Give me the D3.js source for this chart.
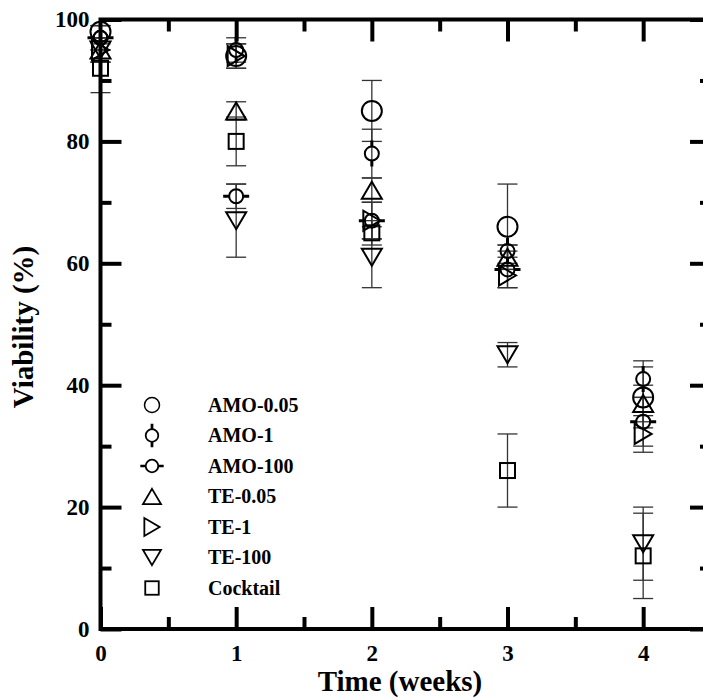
<!DOCTYPE html>
<html>
<head>
<meta charset="utf-8">
<script src="https://cdn.jsdelivr.net/npm/d3@7"></script>
<style>
  body { margin: 0; background: #fff; }
  svg text { font-family: "Liberation Serif", "Times New Roman", serif; font-weight: bold; fill: #000; }
</style>
</head>
<body>
<svg id="chart"></svg>
<script>
var width = 703, height = 698;

// data
var weeks = [0, 1, 2, 3, 4];
var seriesNames = ["AMO-0.05", "AMO-1", "AMO-100", "TE-0.05", "TE-1", "TE-100", "Cocktail"];
var amo005 = [98, 94, 85, 66, 38];
var amo005Err = [1, 2, 5, 7, 5];
var amo1 = [97, 95, 78, 62, 41];
var amo1Err = [2, 2, 4, 1, 3];
var amo100 = [97, 71, 67, 59, 34];
var amo100Err = [2, 2, 3, 3, 4];
var te005 = [95, 85, 72, 61, 37];
var te005Err = [2, 1.5, 2, 2, 3];
var te1 = [95, 94, 67, 58, 32];
var te1Err = [2, 2, 3, 2, 3];
var te100 = [95, 67, 61, 45, 14];
var te100Err = [2, 6, 5, 2, 6];
var cocktail = [92, 80, 65, 26, 12];
var cocktailErr = [4, 4, 2, 6, 7];

var xMajor = [0, 1, 2, 3, 4];
var xMinor = [0.5, 1.5, 2.5, 3.5];
var yMajor = [0, 20, 40, 60, 80, 100];
var yMinor = [10, 30, 50, 70, 90];

var shapes = ["bigCircle", "circleV", "circleH", "triUp", "triRight", "triDown", "square"];
var allValues = [amo005, amo1, amo100, te005, te1, te100, cocktail];
var allErrors = [amo005Err, amo1Err, amo100Err, te005Err, te1Err, te100Err, cocktailErr];

var series = seriesNames.map(function(name, i) {
    return {
        name: name,
        shape: shapes[i],
        points: weeks.map(function(w, j) {
            return { week: w, value: allValues[i][j], err: allErrors[i][j] };
        })
    };
});

var svg = d3.select("#chart")
    .attr("width", width)
    .attr("height", height);

var x = d3.scaleLinear().domain([0, 4.5]).range([100.5, 711]);
var y = d3.scaleLinear().domain([0, 100]).range([629, 19.5]);

// draws a marker into group g, scale s for legend size
function drawMarker(g, shape, s) {
    var sw = 2 * s;
    if (shape == "bigCircle") {
        g.append("circle").attr("r", 10 * s);
    } else if (shape == "circleV" || shape == "circleH") {
        var r = 7 * s;
        g.append("circle").attr("r", r);
        var stub = 6 * s;
        if (shape == "circleV") {
            g.append("path").attr("d", "M0," + (-r - stub) + "V" + (-r) + "M0," + r + "V" + (r + stub))
                .style("stroke-width", 3 * s);
        } else {
            g.append("path").attr("d", "M" + (-r - stub) + ",0H" + (-r) + "M" + r + ",0H" + (r + stub))
                .style("stroke-width", 3 * s);
        }
    } else if (shape == "triUp") {
        var w = 10 * s, h = 8.5 * s;
        g.append("path").attr("d", "M0," + (-h) + "L" + w + "," + h + "L" + (-w) + "," + h + "Z");
    } else if (shape == "triDown") {
        var w2 = 10 * s, h2 = 8.5 * s;
        g.append("path").attr("d", "M0," + h2 + "L" + w2 + "," + (-h2) + "L" + (-w2) + "," + (-h2) + "Z");
    } else if (shape == "triRight") {
        var w3 = 8.5 * s, h3 = 10 * s;
        g.append("path").attr("d", "M" + w3 + ",0L" + (-w3) + "," + h3 + "L" + (-w3) + "," + (-h3) + "Z");
    } else if (shape == "square") {
        var a = 7.5 * s;
        g.append("rect").attr("x", -a).attr("y", -a).attr("width", 2 * a).attr("height", 2 * a);
    }
    g.selectAll("circle, path, rect")
        .style("fill", "none")
        .style("stroke", "#000")
        .filter(function() { return !this.style.strokeWidth; })
        .style("stroke-width", sw);
}

// error bars first
var errGroup = svg.append("g");
series.forEach(function(sr) {
    sr.points.forEach(function(p) {
        var cx = x(p.week);
        errGroup.append("line")
            .attr("x1", cx).attr("x2", cx)
            .attr("y1", y(p.value + p.err)).attr("y2", y(p.value - p.err))
            .style("stroke", "#333").style("stroke-width", 1.3);
        [p.value + p.err, p.value - p.err].forEach(function(v) {
            errGroup.append("line")
                .attr("x1", cx - 10).attr("x2", cx + 10)
                .attr("y1", y(v)).attr("y2", y(v))
                .style("stroke", "#333").style("stroke-width", 1.3);
        });
    });
});

// markers
series.forEach(function(sr) {
    sr.points.forEach(function(p) {
        var g = svg.append("g").attr("transform", "translate(" + x(p.week) + "," + y(p.value) + ")");
        drawMarker(g, sr.shape, 1);
    });
});

// axes
function styleAxis(g) {
    g.select(".domain").remove();
    g.selectAll(".tick line").style("stroke", "#000").style("stroke-width", 4);
    g.selectAll(".tick text").style("font-family", "Liberation Serif, serif").style("font-weight", "bold");
}

svg.append("g").attr("transform", "translate(0,629)")
    .call(d3.axisBottom(x).tickValues(xMajor).tickSize(-22).tickPadding(16).tickFormat(d3.format("d")))
    .call(styleAxis)
    .selectAll("text").style("font-size", "23px");
svg.append("g").attr("transform", "translate(0,629)")
    .call(d3.axisBottom(x).tickValues(xMinor).tickSize(-12).tickFormat(""))
    .call(styleAxis);

svg.append("g").attr("transform", "translate(0,19.5)")
    .call(d3.axisTop(x).tickValues(xMajor.slice(1)).tickSize(-22).tickFormat(""))
    .call(styleAxis);
svg.append("g").attr("transform", "translate(0,19.5)")
    .call(d3.axisTop(x).tickValues(xMinor).tickSize(-12).tickFormat(""))
    .call(styleAxis);

svg.append("g").attr("transform", "translate(" + x(0) + ",0)")
    .call(d3.axisLeft(y).tickValues(yMajor).tickSize(-21).tickPadding(11))
    .call(styleAxis)
    .selectAll("text").style("font-size", "23px");
svg.append("g").attr("transform", "translate(" + x(0) + ",0)")
    .call(d3.axisLeft(y).tickValues(yMinor).tickSize(-11).tickFormat(""))
    .call(styleAxis);

svg.append("g").attr("transform", "translate(" + x(4.5) + ",0)")
    .call(d3.axisRight(y).tickValues(yMajor).tickSize(-21).tickFormat(""))
    .call(styleAxis);
svg.append("g").attr("transform", "translate(" + x(4.5) + ",0)")
    .call(d3.axisRight(y).tickValues(yMinor).tickSize(-11).tickFormat(""))
    .call(styleAxis);

// frame
svg.append("rect")
    .attr("x", x(0)).attr("y", y(100))
    .attr("width", x(4.5) - x(0)).attr("height", y(0) - y(100))
    .style("fill", "none").style("stroke", "#000").style("stroke-width", 4);

// axis titles
svg.append("text")
    .attr("x", 400).attr("y", 691)
    .attr("text-anchor", "middle")
    .style("font-size", "29px")
    .text("Time (weeks)");

svg.append("text")
    .attr("transform", "translate(33,327) rotate(-90)")
    .attr("text-anchor", "middle")
    .style("font-size", "29px")
    .text("Viability (%)");

// legend
var legend = svg.append("g");
series.forEach(function(sr, i) {
    var ly = 405 + i * 30.5;
    var g = legend.append("g").attr("transform", "translate(152," + ly + ")");
    drawMarker(g, sr.shape, sr.shape == "bigCircle" ? 0.75 : 0.9);
    legend.append("text")
        .attr("x", 208).attr("y", ly)
        .attr("dy", "0.34em")
        .style("font-size", "20px")
        .text(sr.name);
});
</script>
</body>
</html>
